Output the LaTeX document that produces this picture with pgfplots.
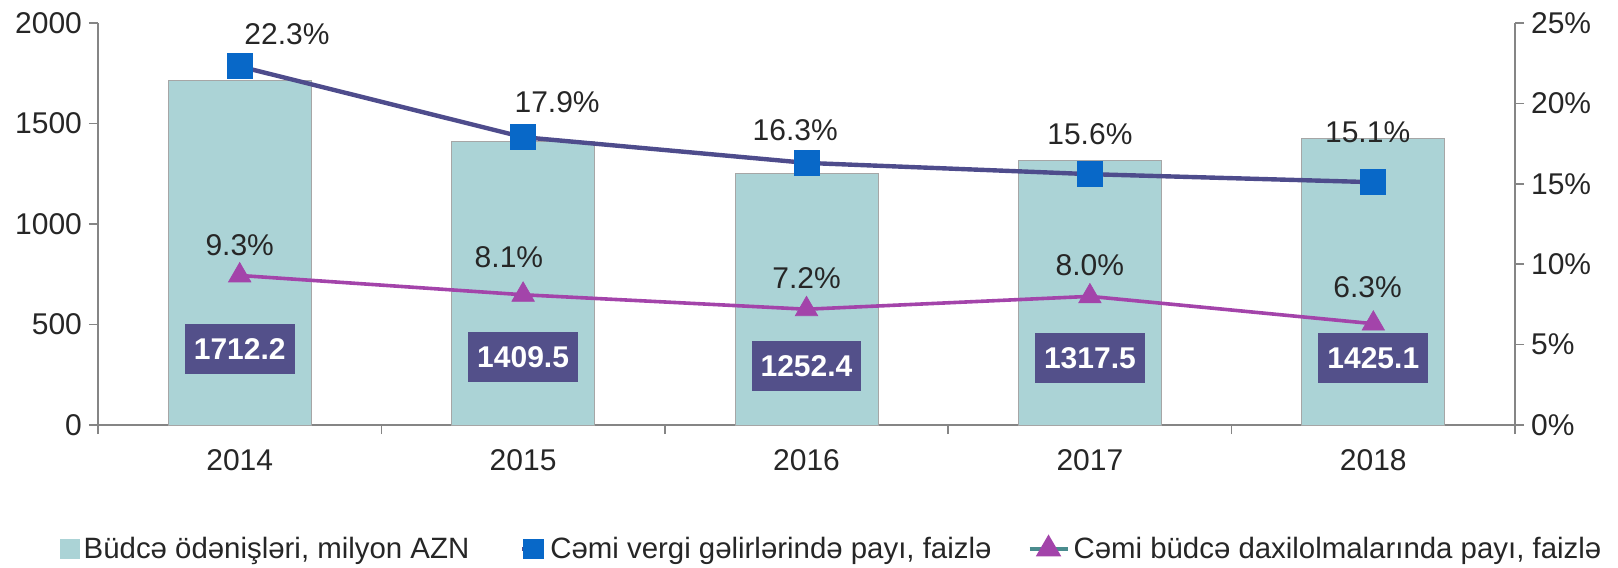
\documentclass[border=0pt]{standalone}
\usepackage{fontspec}
\setmainfont{Liberation Sans}
\usepackage{pgfplots}
\pgfplotsset{compat=1.18}
\definecolor{barfill}{HTML}{ABD3D6}
\definecolor{baredge}{HTML}{A6A6A6}
\definecolor{blueline}{HTML}{4E4C8C}
\definecolor{bluemark}{HTML}{0868C8}
\definecolor{magline}{HTML}{A344AA}
\definecolor{legteal}{HTML}{4A8C8E}
\definecolor{boxfill}{HTML}{53508A}
\definecolor{axisgray}{HTML}{858585}
\definecolor{txt}{HTML}{262626}

\begin{document}
\begin{tikzpicture}
\pgfplotsset{
  base/.style={
    scale only axis, width=708.5pt, height=201pt,
    xmin=-0.5, xmax=4.5,
    /pgf/number format/assume math mode=true,
    tick label style={font=\fontsize{15}{18}\selectfont, text=txt},
    tick align=outside,
    major tick length=4.5pt, minor tick length=4.5pt,
    tick style={axisgray, line width=0.8pt},
    axis line style={axisgray, line width=0.8pt},
  }
}
\begin{axis}[base, name=ax,
  ymin=0, ymax=2000, ytick={0,500,...,2000},
  axis y line*=left, axis x line*=bottom,
  xtick={0,1,2,3,4}, xticklabels={2014,2015,2016,2017,2018},
  major x tick style={draw=none},
  minor xtick={-0.5,0.5,1.5,2.5,3.5,4.5},
  yticklabel style={/pgf/number format/1000 sep={}},
  xticklabel style={yshift=-4pt},
]
\addplot[ybar, bar width=71.5pt, fill=barfill, draw=baredge, line width=0.5pt]
  coordinates {(0,1712.2) (1,1409.5) (2,1252.4) (3,1317.5) (4,1425.1)};
\addplot[draw=none, mark=none, nodes near coords, point meta=explicit symbolic,
  every node near coord/.style={anchor=center, fill=boxfill, text=white,
    font=\bfseries\fontsize{15}{18}\selectfont, inner xsep=4.5pt, minimum height=25pt}]
  coordinates {(0,378)[1712.2] (1,338)[1409.5] (2,293)[1252.4] (3,333)[1317.5] (4,333)[1425.1]};
\end{axis}

\begin{axis}[base,
  ymin=0, ymax=25, ytick={0,5,...,25},
  yticklabel={\pgfmathprintnumber{\tick}\%},
  axis y line*=right, axis x line=none,
  legend columns=3,
  legend style={draw=none, fill=none, at={(-0.0314,-0.3085)}, anchor=west,
    font=\fontsize{14.7}{17}\selectfont, text=txt,
    /tikz/column 2/.style={column sep=23.5pt},
    /tikz/column 4/.style={column sep=16pt},
    cells={anchor=west}},
]
\addlegendimage{legend image code/.code={\fill[barfill] (0pt,-4.75pt) rectangle (9.5pt,4.75pt);}}
\addlegendentry{Büdcə ödənişləri, milyon AZN}
\addplot[blueline, line width=2.2pt, mark=square*, mark size=6.25pt,
  mark options={fill=bluemark, draw=bluemark, line width=0.5pt},
  legend image code/.code={
    \draw[blueline, line width=2pt] (0pt,0pt) -- (11pt,0pt);
    \fill[bluemark] (1.5pt,-4pt) rectangle (9.5pt,4pt);}]
  coordinates {(0,22.3) (1,17.9) (2,16.3) (3,15.6) (4,15.1)};
\addlegendentry{Cəmi vergi gəlirlərində payı, faizlə}
\addplot[magline, line width=1.8pt, mark=triangle*, mark size=6.5pt,
  mark options={fill=magline, draw=magline, line width=0.3pt},
  legend image code/.code={
    \draw[legteal, line width=2pt] (0pt,0pt) -- (19pt,0pt);
    \fill[magline] (9.5pt,5.5pt) -- (4.7pt,-2.75pt) -- (14.3pt,-2.75pt) -- cycle;}]
  coordinates {(0,9.3) (1,8.1) (2,7.2) (3,8.0) (4,6.3)};
\addlegendentry{Cəmi büdcə daxilolmalarında payı, faizlə}
% percentage labels
\addplot[forget plot, draw=none, mark=none, nodes near coords, point meta=explicit symbolic,
  every node near coord/.style={anchor=center, text=txt, font=\fontsize{15}{18}\selectfont}]
  coordinates {(0.167,24.3)[22.3\%] (1.12,20.1)[17.9\%] (1.96,18.35)[16.3\%] (3.0,18.1)[15.6\%] (3.98,18.2)[15.1\%]};
\addplot[forget plot, draw=none, mark=none, nodes near coords, point meta=explicit symbolic,
  every node near coord/.style={anchor=center, text=txt, font=\fontsize{15}{18}\selectfont}]
  coordinates {(0,11.2)[9.3\%] (0.95,10.45)[8.1\%] (2.0,9.14)[7.2\%] (3.0,9.95)[8.0\%] (3.98,8.58)[6.3\%]};
\end{axis}
\pgfresetboundingbox
\path[use as bounding box] ([shift={(-49pt,-71pt)}]ax.south west) rectangle ([shift={(51.5pt,11.5pt)}]ax.north east);
\end{tikzpicture}
\end{document}
